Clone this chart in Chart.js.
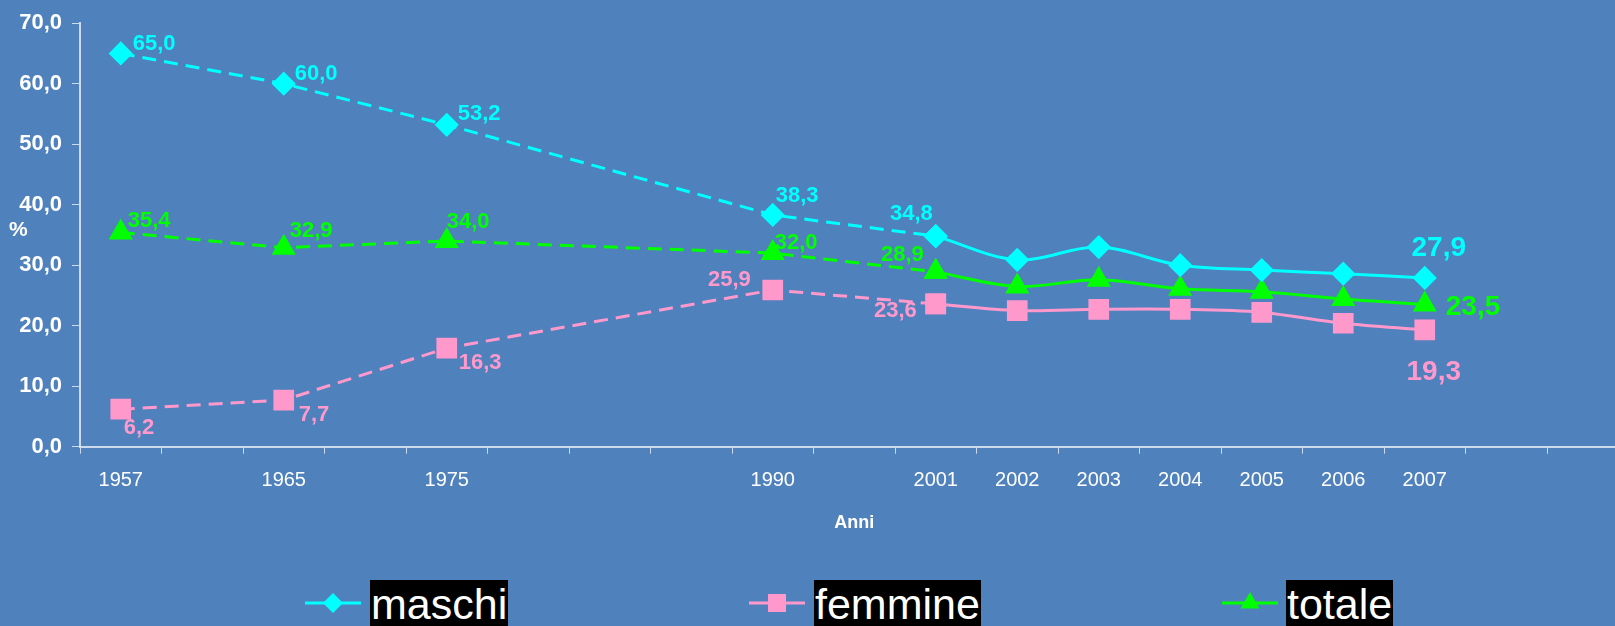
<!DOCTYPE html>
<html>
<head>
<meta charset="utf-8">
<script src="https://cdn.jsdelivr.net/npm/chart.js@4.4.1/dist/chart.umd.min.js"></script>
<style>
html, body { margin: 0; padding: 0; overflow: hidden; background: #4F81BD; width: 1615px; height: 626px; }
#wrap { position: relative; width: 1615px; height: 626px; overflow: hidden; }
canvas { position: absolute; left: 0; top: 0; }
.unit { position: absolute; left: 9px; top: 217px; font: bold 21px 'Liberation Sans', Arial, sans-serif; color: #fff; }
.legline { position: absolute; top: 580px; }
.legtext { position: absolute; top: 580px; height: 50px; line-height: 50px; background: #000; color: #fff;
  font: 43px 'Liberation Sans', Arial, sans-serif; padding: 0 1px; }
</style>
</head>
<body>
<div id="wrap">
  <canvas id="chart" width="1644" height="626"></canvas>
  <div class="unit">%</div>
</div>
<script>
// x categories, blank slots keep the uneven year spacing of the original
const years = ['1957', '', '1965', '', '1975', '', '', '', '1990', '', '2001',
  '2002', '2003', '2004', '2005', '2006', '2007', '', ''];

const maschi  = [65.0, null, 60.0, null, 53.2, null, null, null, 38.3, null, 34.8,
  30.9, 33.0, 30.0, 29.2, 28.6, 27.9, null, null];
const femmine = [6.2, null, 7.7, null, 16.3, null, null, null, 25.9, null, 23.6,
  22.5, 22.7, 22.7, 22.2, 20.4, 19.3, null, null];
const totale  = [35.4, null, 32.9, null, 34.0, null, null, null, 32.0, null, 28.9,
  26.5, 27.6, 26.1, 25.6, 24.4, 23.5, null, null];

const yTicks = [0, 10, 20, 30, 40, 50, 60, 70];

const FONT = "'Liberation Sans', Arial, sans-serif";
const fmt = v => v.toFixed(1).replace('.', ',');
const SPLIT = 10; // 2001: dashed before, solid after

// where each value label sits next to its point
const labelSpots = {
  maschi: { 0: { dx: 12, dy: -10 }, 2: { dx: 11, dy: -10 }, 4: { dx: 11, dy: -11 }, 8: { dx: 3, dy: -19 },
    10: { dx: -3, dy: -22, align: 'right' }, 16: { dx: 14, dy: -30, align: 'center', size: 28 } },
  femmine: { 0: { dx: 3, dy: 19 }, 2: { dx: 15, dy: 15 }, 4: { dx: 12, dy: 15 }, 8: { dx: -22, dy: -10, align: 'right' },
    10: { dx: -19, dy: 7, align: 'right' }, 16: { dx: 9, dy: 42, align: 'center', size: 28 } },
  totale: { 0: { dx: 7, dy: -12 }, 2: { dx: 6, dy: -17 }, 4: { dx: 0, dy: -19 }, 8: { dx: 2, dy: -10 },
    10: { dx: -12, dy: -17, align: 'right' }, 16: { dx: 21, dy: 3, size: 28 } }
};

const seriesList = [
  { name: 'maschi', values: maschi, color: '#00FFFF', style: 'rectRot', radius: 10 },
  { name: 'femmine', values: femmine, color: '#FF99CC', style: 'rect', radius: 12.5 },
  { name: 'totale', values: totale, color: '#00FF00', style: 'triangle', radius: 11 }
];

const pointLabels = {
  id: 'pointLabels',
  afterDatasetsDraw(chart) {
    const ctx = chart.ctx;
    const xs = chart.scales.x, ys = chart.scales.y;
    seriesList.forEach(s => {
      const spots = labelSpots[s.name];
      Object.keys(spots).forEach(k => {
        const sp = spots[k];
        const v = s.values[k];
        ctx.save();
        ctx.font = `bold ${sp.size || 22}px ${FONT}`;
        ctx.fillStyle = s.color;
        ctx.textAlign = sp.align || 'left';
        ctx.textBaseline = 'middle';
        ctx.fillText(fmt(v), xs.getPixelForValue(+k) + sp.dx, ys.getPixelForValue(v) + sp.dy);
        ctx.restore();
      });
    });
  }
};

function part(s, dashed) {
  const data = s.values.map((v, i) => (dashed ? i <= SPLIT : i >= SPLIT) ? v : null);
  return {
    label: s.name, data,
    borderColor: s.color, backgroundColor: s.color,
    pointBackgroundColor: s.color, pointBorderColor: s.color,
    pointStyle: s.style, pointRadius: s.radius, pointHoverRadius: s.radius,
    borderWidth: 3, spanGaps: true,
    tension: dashed ? 0 : 0.35,
    borderDash: dashed ? [14, 8] : []
  };
}

const datasets = [];
seriesList.forEach(s => { datasets.push(part(s, true), part(s, false)); });

const axisColor = 'rgba(235,240,248,0.8)';

new Chart(document.getElementById('chart'), {
  type: 'line',
  data: { labels: years, datasets },
  options: {
    responsive: false,
    animation: false,
    layout: { padding: { top: 22.6, left: 0, right: 0, bottom: 79.3 } },
    plugins: { legend: { display: false }, tooltip: { enabled: false } },
    scales: {
      x: {
        type: 'category',
        offset: true,
        afterFit: s => { s.height = 100; },
        border: { color: axisColor, width: 2 },
        grid: { drawOnChartArea: false, drawTicks: true, tickLength: 7, color: axisColor, offset: true },
        ticks: { color: '#fff', font: { family: FONT, size: 20 }, padding: 15, maxRotation: 0, autoSkip: false },
        title: { display: true, text: 'Anni', color: '#fff', font: { family: FONT, size: 18, weight: 'bold' },
          padding: { top: 0, bottom: 13 } }
      },
      y: {
        min: 0, max: 70,
        afterFit: s => { s.width = 80; },
        afterBuildTicks: s => { s.ticks = yTicks.map(v => ({ value: v })); },
        border: { color: axisColor, width: 2 },
        grid: { drawOnChartArea: false, drawTicks: true, tickLength: 8, color: axisColor },
        ticks: { color: '#fff', font: { family: FONT, size: 22, weight: 'bold' }, padding: 10,
          callback: v => fmt(v) }
      }
    }
  },
  plugins: [pointLabels]
});

// legend below the chart: line with marker, label in black box
const legendItems = [
  { text: 'maschi', color: '#00FFFF', marker: '<polygon points="28,13 38,23 28,33 18,23"/>', x: 305, boxX: 370 },
  { text: 'femmine', color: '#FF99CC', marker: '<rect x="19" y="14" width="18" height="18"/>', x: 749, boxX: 814 },
  { text: 'totale', color: '#00FF00', marker: '<polygon points="28,12 37.5,28.5 18.5,28.5"/>', x: 1222, boxX: 1286 }
];
const wrap = document.getElementById('wrap');
legendItems.forEach(it => {
  const svg = document.createElement('div');
  svg.className = 'legline';
  svg.style.left = it.x + 'px';
  svg.innerHTML = `<svg width="56" height="46"><line x1="0" y1="23" x2="56" y2="23" stroke="${it.color}" stroke-width="3"/>` +
    `<g fill="${it.color}">${it.marker}</g></svg>`;
  wrap.appendChild(svg);
  const t = document.createElement('div');
  t.className = 'legtext';
  t.style.left = it.boxX + 'px';
  t.textContent = it.text;
  wrap.appendChild(t);
});
</script>
</body>
</html>
